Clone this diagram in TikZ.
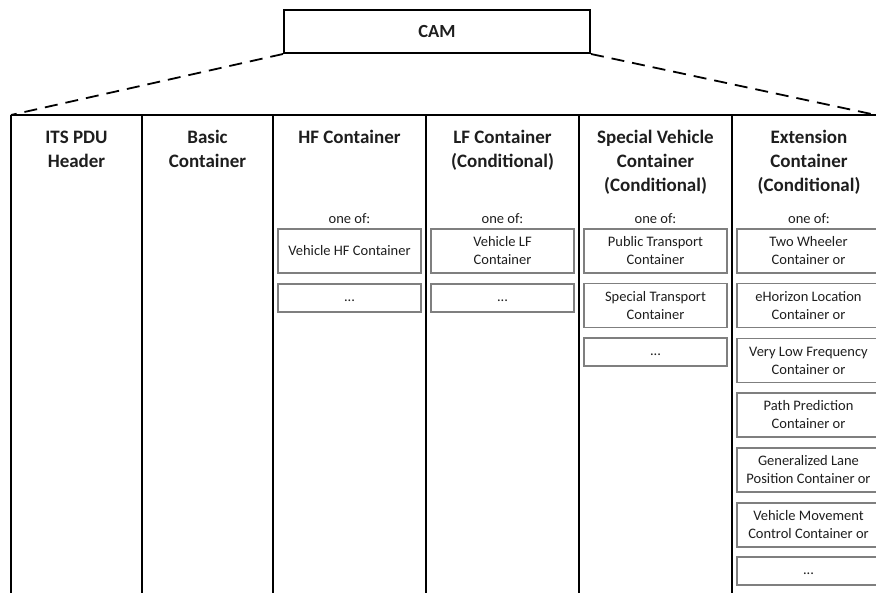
\documentclass[tikz,border=0pt]{standalone}
\usepackage{fontspec}
\setmainfont{Carlito}
\definecolor{boxgray}{HTML}{7F7F7F}
\definecolor{txt}{HTML}{1E1E1E}
\newcommand{\hstrut}{\vphantom{lA}}
\begin{document}
\begin{tikzpicture}[x=1pt,y=-1pt,
  mainline/.style={line width=2pt,black},
  dashline/.style={line width=1.8pt,black,dash pattern=on 13pt off 8pt},
  cambox/.style={draw,line width=2pt,minimum width=306pt,minimum height=43pt,inner sep=0pt,font=\fontsize{18.5}{22}\selectfont\bfseries,text=txt},
  head/.style={align=center,font=\fontsize{19}{24}\selectfont\bfseries,text=txt,anchor=north,inner sep=0pt},
  oneof/.style={font=\fontsize{14.5}{18}\selectfont,text=txt,inner sep=0pt},
  item/.style={draw=boxgray,line width=1.2pt,minimum width=143pt,minimum height=44pt,inner sep=0pt,align=center,font=\fontsize{14.5}{18}\selectfont,text=txt},
  dots/.style={item,minimum height=28pt}
]
\useasboundingbox (0,0) rectangle (876,593);
\node[cambox] (cam) at (437,31.5) {CAM};
\coordinate (tl) at (11,115);
\coordinate (tr) at (876,115);
\coordinate (trx) at (890,115);
\draw[dashline] (cam.south west) -- (tl);
\draw[dashline] (cam.south east) -- (tr);
% table
\draw[mainline] (tl) -- (trx);
\foreach \x in {11,142,273,426,579,732}{
  \draw[mainline] (\x,115) -- (\x,600);
}
% headers
\node[head] (h1) at (76.5,130) {\hstrut ITS PDU\\Header};
\node[head] (h2) at (207.5,130) {\hstrut Basic\\Container};
\node[head] (h3) at (349.5,130) {\hstrut HF Container};
\node[head] (h4) at (502.5,130) {\hstrut LF Container\\(Conditional)};
\node[head] (h5) at (655.5,130) {\hstrut Special Vehicle\\Container\\(Conditional)};
\node[head] (h6) at (809,130) {\hstrut Extension\\Container\\(Conditional)};
% one of
\node[oneof] (o3) at (349.5,219) {one of:};
\node[oneof] (o4) at (502.5,219) {one of:};
\node[oneof] (o5) at (655.5,219) {one of:};
\node[oneof] (o6) at (809,219) {one of:};
% HF
\node[item] (hf1) at (349.5,251) {Vehicle HF Container};
\node[dots] (hf2) at (349.5,298) {\vphantom{Ag}...};
% LF
\node[item] (lf1) at (502.5,251) {Vehicle LF\\Container};
\node[dots] (lf2) at (502.5,298) {\vphantom{Ag}...};
% Special vehicle
\node[item] (sv1) at (655.5,251) {Public Transport\\Container};
\node[item] (sv2) at (655.5,305.5) {Special Transport\\Container};
\node[dots] (sv3) at (655.5,352) {\vphantom{Ag}...};
% Extension
\node[item] (e1) at (808.5,251) {Two Wheeler\\Container or};
\node[item] (e2) at (808.5,305.5) {eHorizon Location\\Container or};
\node[item] (e3) at (808.5,360.5) {Very Low Frequency\\Container or};
\node[item] (e4) at (808.5,415) {Path Prediction\\Container or};
\node[item] (e5) at (808.5,470) {Generalized Lane\\Position Container or};
\node[item] (e6) at (808.5,525) {Vehicle Movement\\Control Container or};
\node[dots] (e7) at (808.5,571) {\vphantom{Ag}...};
\end{tikzpicture}
\end{document}
